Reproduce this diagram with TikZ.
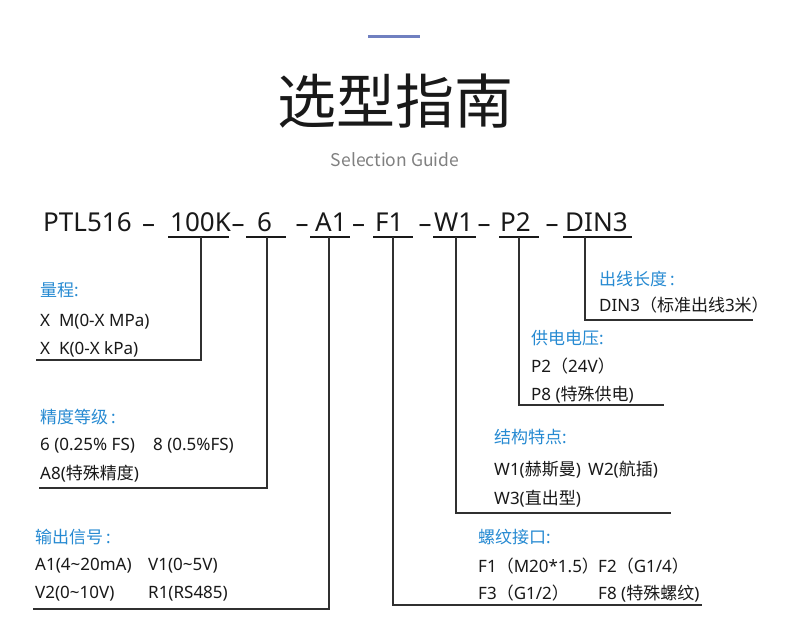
\documentclass[tikz,border=0pt]{standalone}
\usepackage{fontspec}
\setmainfont{Noto Sans}
\newfontfamily\cjk{Noto Sans CJK SC}
\definecolor{labblue}{RGB}{38,138,210}
\definecolor{barblue}{RGB}{112,128,192}
\definecolor{ink}{RGB}{25,25,25}
\newcommand{\zh}[1]{{\cjk #1}}
\begin{document}
\begin{tikzpicture}[x=1pt,y=-1pt,
  code/.style={font=\fontsize{26}{26}\selectfont, anchor=base west, inner sep=0, text=ink},
  dsh/.style={font=\fontsize{26}{26}\selectfont, anchor=base, inner sep=0, text=ink},
  hd/.style={font=\fontsize{17}{17}\selectfont, anchor=base west, inner sep=0, text=labblue},
  tx/.style={font=\fontsize{17}{17}\selectfont, anchor=base west, inner sep=0, text=ink},
  uline/.style={line width=1.1pt, draw=ink},
  conn/.style={line width=1.3pt, draw=ink!90}]
\useasboundingbox (0,0) rectangle (790,639);
\fill[white] (0,0) rectangle (790,639);
% title
\fill[barblue] (368,35) rectangle (420,38.5);
\node[font=\cjk\fontsize{59}{59}\selectfont, text=ink, inner sep=0] (title) at (395,101) {选型指南};
\node[font=\cjk\fontsize{17.5}{17.5}\selectfont, text=black!50, inner sep=0] (sub) at (395,160) {Selection Guide};
% code row
\node[code] (ptl) at (43,232) {PTL516};
\node[code] (k100) at (170,232) {100K};
\node[code] (s6) at (257,232) {6};
\node[code] (a1) at (315,232) {A1};
\node[code] (f1) at (375,232) {F1};
\node[code] (w1) at (434,232) {W1};
\node[code] (p2) at (500,232) {P2};
\node[code] (din) at (565,232) {DIN3};
\foreach \x/\n in {148.5/d1,238/d2,302/d3,358.5/d4,425/d5,484/d6,552/d7}
  \node[dsh] (\n) at (\x,233) {–};
% underlines
\foreach \a/\b in {168/229,246/286,310/350,373/413,433/476,499/539,563/632}
  \draw[uline] (\a,237) -- (\b,237);
% connector corners
\coordinate (u1) at (201,237); \coordinate (e1) at (36,360);
\coordinate (u2) at (267,237); \coordinate (e2) at (39,488);
\coordinate (u3) at (329,237); \coordinate (e3) at (33,609);
\coordinate (u4) at (393,237); \coordinate (e4) at (702,605);
\coordinate (u5) at (456,237); \coordinate (e5) at (671,513);
\coordinate (u6) at (519,237); \coordinate (e6) at (664,405);
\coordinate (u7) at (585,237); \coordinate (e7) at (753,320);
\foreach \i in {1,...,7}
  \draw[conn] (u\i) |- (e\i);
% range
\node[hd] (h1) at (40,296) {\zh{量程}:};
\node[tx] (t11) at (40,326) {X\ \ M(0-X MPa)};
\node[tx] (t12) at (40,354) {X\ \ K(0-X kPa)};
% precision
\node[hd] (h2) at (40,423) {\zh{精度等级}\,:};
\node[tx] (t21) at (40,450) {6 (0.25\% FS)};
\node[tx] (t21b) at (153,450) {8 (0.5\%FS)};
\node[tx] (t22) at (40,479) {A8(\zh{特殊精度})};
% output
\node[hd] (h3) at (35,543) {\zh{输出信号}\,:};
\node[tx] (t31) at (35,570) {A1(4\char`~20mA)};
\node[tx] (t31b) at (148,570) {V1(0\char`~5V)};
\node[tx] (t32) at (35,598) {V2(0\char`~10V)};
\node[tx] (t32b) at (148,598) {R1(RS485)};
% cable
\node[hd] (h7) at (599,286) {\zh{出线长度}\,:};
\node[tx] (t71) at (599,311) {DIN3\zh{（标准出线}3\zh{米）}};
% power
\node[hd] (h6) at (531,344) {\zh{供电电压}:};
\node[tx] (t61) at (531,372) {P2\zh{（}24V\zh{）}};
\node[tx] (t62) at (531,400) {P8 (\zh{特殊供电})};
% structure
\node[hd] (h5) at (494,443) {\zh{结构特点}:};
\node[tx] (t51) at (494,475) {W1(\zh{赫斯曼})};
\node[tx] (t51b) at (588,475) {W2(\zh{航插})};
\node[tx] (t52) at (494,504) {W3(\zh{直出型})};
% thread
\node[hd] (h4) at (478,543) {\zh{螺纹接口}:};
\node[tx] (t41) at (478,572) {F1\zh{（}M20*1.5\zh{）}};
\node[tx] (t41b) at (598,572) {F2\zh{（}G1/4\zh{）}};
\node[tx] (t42) at (478,599) {F3\zh{（}G1/2\zh{）}};
\node[tx] (t42b) at (598,599) {F8 (\zh{特殊螺纹})};
\end{tikzpicture}
\end{document}
